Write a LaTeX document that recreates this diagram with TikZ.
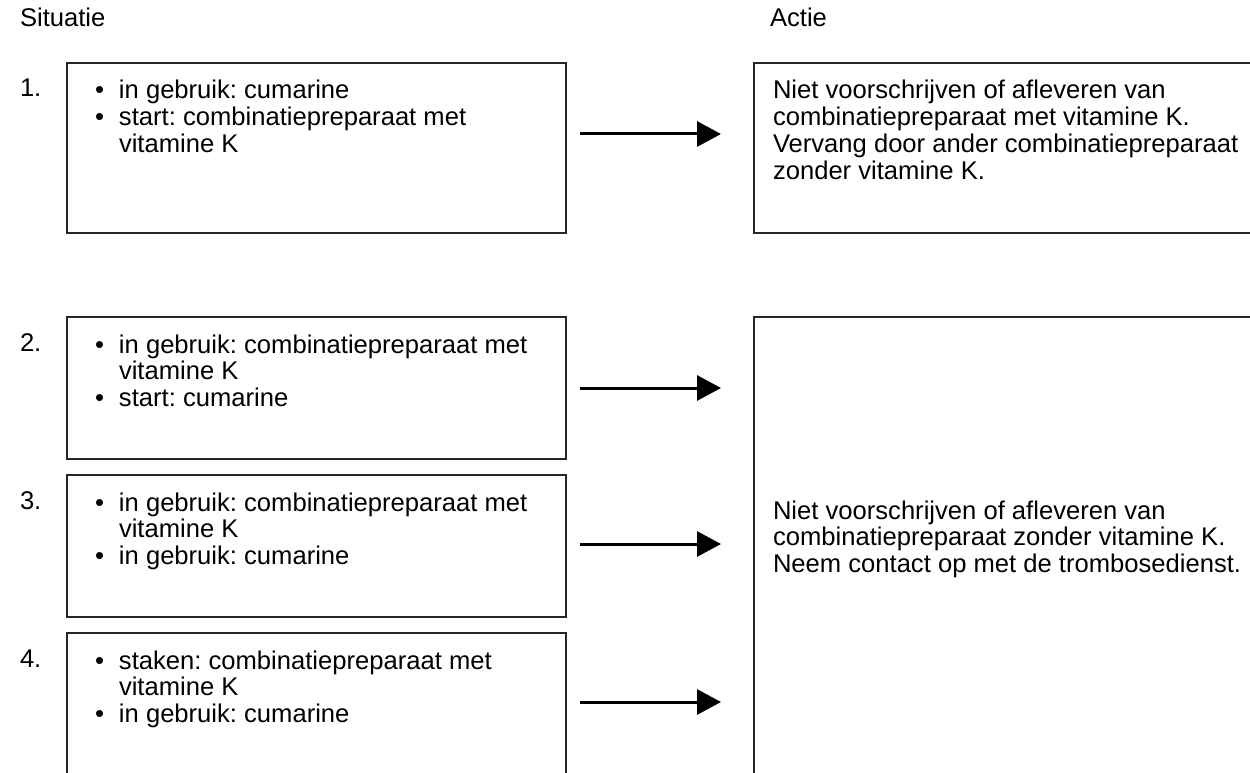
\documentclass[tikz,border=0pt]{standalone}
\usepackage{fontspec}
\setmainfont{Liberation Sans}
\usetikzlibrary{arrows.meta}
\frenchspacing
\newcommand{\bitem}{\makebox[24pt][l]{\textbullet}}
\newcommand{\bind}{\hspace*{24pt}}
\newenvironment{lines}{\begin{tabular}[t]{@{}l@{}}}{\end{tabular}}
\begin{document}
\begin{tikzpicture}[x=1pt,y=-1pt,
  every node/.style={inner sep=0pt, outer sep=0pt, font=\fontsize{25.6}{26.7}\selectfont},
  box/.style={draw=black!85, line width=1.4pt, anchor=north west, minimum width=499pt, minimum height=170pt},
  sitbox/.style={box, minimum height=142pt},
  label/.style={anchor=base west},
  txt/.style={anchor=base west},
  arr/.style={line width=3pt, -{Triangle[length=24pt,width=25pt]}, shorten >=33pt}]
\useasboundingbox (0,0) rectangle (1250,773);
\clip (0,0) rectangle (1250,773);
% headings
\node[label] (hs) at (20,27) {Situatie};
\node[label] (ha) at (770,27) {Actie};
% numbers
\node[label] (n1) at (20,97) {1.};
\node[label] (n2) at (20,351) {2.};
\node[label] (n3) at (20,509) {3.};
\node[label] (n4) at (20,667) {4.};
% situation boxes
\node[box] (b1) at (67,63) {};
\node[sitbox] (b2) at (67,317) {};
\node[sitbox] (b3) at (67,475) {};
\node[sitbox, minimum height=200pt] (b4) at (67,633) {};
% action boxes
\node[box, minimum width=560pt] (a1) at (754,63) {};
\node[box, minimum width=560pt, minimum height=520pt] (a2) at (754,317) {};
% texts in situation boxes
\node[txt] (t1) at (95,99) {\begin{lines}\bitem in gebruik: cumarine\\
  \bitem start: combinatiepreparaat met\\
  \bind vitamine K\end{lines}};
\node[txt] (t2) at (95,353) {\begin{lines}\bitem in gebruik: combinatiepreparaat met\\
  \bind vitamine K\\
  \bitem start: cumarine\end{lines}};
\node[txt] (t3) at (95,511) {\begin{lines}\bitem in gebruik: combinatiepreparaat met\\
  \bind vitamine K\\
  \bitem in gebruik: cumarine\end{lines}};
\node[txt] (t4) at (95,669) {\begin{lines}\bitem staken: combinatiepreparaat met\\
  \bind vitamine K\\
  \bitem in gebruik: cumarine\end{lines}};
% texts in action boxes
\node[txt] (u1) at (773,99) {\begin{lines}Niet voorschrijven of afleveren van\\
  combinatiepreparaat met vitamine K.\\
  Vervang door ander combinatiepreparaat\\
  zonder vitamine K.\end{lines}};
\node[txt] (u2) at (773,519) {\begin{lines}Niet voorschrijven of afleveren van\\
  combinatiepreparaat zonder vitamine K.\\
  Neem contact op met de trombosedienst.\end{lines}};
% arrows
\draw[arr] ([xshift=14pt,yshift=-71pt]b1.north east) coordinate (s1) -- (s1 -| a1.west);
\draw[arr] ([xshift=14pt,yshift=-71pt]b2.north east) coordinate (s2) -- (s2 -| a2.west);
\draw[arr] ([xshift=14pt,yshift=-69pt]b3.north east) coordinate (s3) -- (s3 -| a2.west);
\draw[arr] ([xshift=14pt,yshift=-69pt]b4.north east) coordinate (s4) -- (s4 -| a2.west);
\end{tikzpicture}
\end{document}
